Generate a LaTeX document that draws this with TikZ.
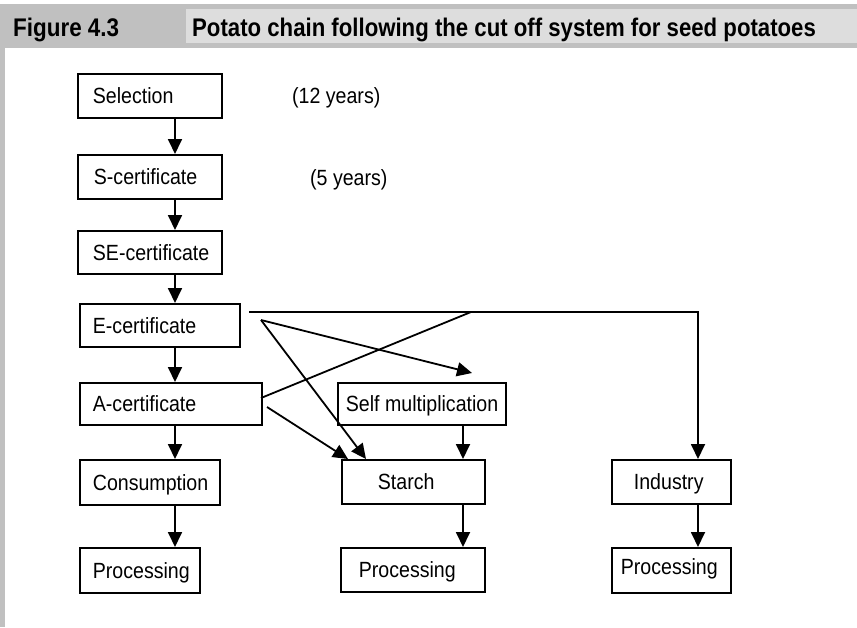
\documentclass[tikz,border=0pt]{standalone}
\usepackage{fontspec}
\usepackage{graphicx}
\setmainfont{Liberation Sans}
\usetikzlibrary{arrows.meta}
\definecolor{bandgray}{RGB}{192,192,192}
\definecolor{titlegray}{RGB}{221,221,221}
\newcommand{\nar}[1]{\scalebox{0.89}[1]{#1}}
\newcommand{\bx}[3]{\makebox[#1pt][l]{\hspace{#2pt}\nar{#3}}}
\begin{document}
\begin{tikzpicture}[x=1pt,y=-1pt,
  box/.style={draw, line width=1.8pt, inner sep=0pt, anchor=north west,
    text height=15.8pt, text depth=0pt, font=\fontsize{22}{26}\selectfont},
  arr/.style={line width=1.8pt, -{Triangle[length=15pt,width=14pt]}},
  ln/.style={line width=1.8pt},
  lbl/.style={anchor=base west, inner sep=0pt, font=\fontsize{22}{26}\selectfont},
  head/.style={anchor=base west, inner sep=0pt, font=\bfseries\fontsize{25.5}{30}\selectfont}]
\useasboundingbox (0,0) rectangle (857,627);
\fill[white] (0,0) rectangle (857,627);
\fill[bandgray] (0,4) rectangle (857,48);
\fill[bandgray] (0,4) rectangle (5,627);
\fill[titlegray] (186,9) rectangle (857,43);
\node[head] (fig) at (13,36) {\scalebox{0.88}[1]{Figure 4.3}};
\node[head] (title) at (192,36) {\scalebox{0.87}[1]{Potato chain following the cut off system for seed potatoes}};

% boxes
\node[box, minimum height=44pt] (sel)    at (77,73)  {\bx{144}{15}{Selection}};
\node[box, minimum height=44pt] (scert)  at (77,154) {\bx{144}{16}{S-certificate}};
\node[box, minimum height=43pt] (se)     at (77,230) {\bx{144}{15}{SE-certificate}};
\node[box, minimum height=43pt] (ecert)  at (79,303) {\bx{160}{13}{E-certificate}};
\node[box, minimum height=42pt] (acert)  at (79,382) {\bx{182}{13}{A-certificate}};
\node[box, minimum height=45pt] (cons)   at (79,459) {\bx{140}{13}{Consumption}};
\node[box, minimum height=45pt] (procL)  at (79,547) {\bx{120}{13}{Processing}};
\node[box, minimum height=42pt] (self)   at (337,382) {\bx{168}{8}{Self multiplication}};
\node[box, minimum height=44pt] (starch) at (341,459) {\bx{143}{36}{Starch}};
\node[box, minimum height=44pt] (procM)  at (340,547) {\bx{144}{18}{Processing}};
\node[box, minimum height=44pt] (ind)    at (611,459) {\bx{119}{22}{Industry}};
\node[box, minimum height=45pt] (procR)  at (611,547) {\raisebox{4pt}{\bx{119}{9}{Processing}}};

% labels
\node[lbl] (y12) at (292,103) {\nar{(12 years)}};
\node[lbl] (y5)  at (310,185) {\nar{(5 years)}};

% column coordinates
\coordinate (c1) at (175,0);
\coordinate (c2) at (463,0);
\coordinate (c3) at (698,312);
\coordinate (h0) at (249,312);
\coordinate (e0) at (261,320);
\coordinate (selftip) at (472,373);
\coordinate (st1) at (366,0);
\coordinate (a0) at (261,398);
\coordinate (hm) at (471,312);
\coordinate (a1) at (267,407);
\coordinate (st2) at (348,0);

% vertical chain
\draw[arr] (sel.south -| c1) -- (scert.north -| c1);
\draw[arr] (scert.south -| c1) -- (se.north -| c1);
\draw[arr] (se.south -| c1) -- (ecert.north -| c1);
\draw[arr] (ecert.south -| c1) -- (acert.north -| c1);
\draw[arr] (acert.south -| c1) -- (cons.north -| c1);
\draw[arr] (cons.south -| c1) -- (procL.north -| c1);

% middle column
\draw[arr] (self.south -| c2) -- (starch.north -| c2);
\draw[arr] (starch.south -| c2) -- (procM.north -| c2);

% right column
\draw[arr] (h0) -- (c3) -- (ind.north -| c3);
\draw[arr] (ind.south -| c3) -- (procR.north -| c3);

% diagonals
\draw[arr] (e0) -- (selftip);
\draw[arr] (e0) -- (starch.north -| st1);
\draw[ln] (a0) -- (hm);
\draw[arr] (a1) -- (starch.north -| st2);
\end{tikzpicture}
\end{document}
